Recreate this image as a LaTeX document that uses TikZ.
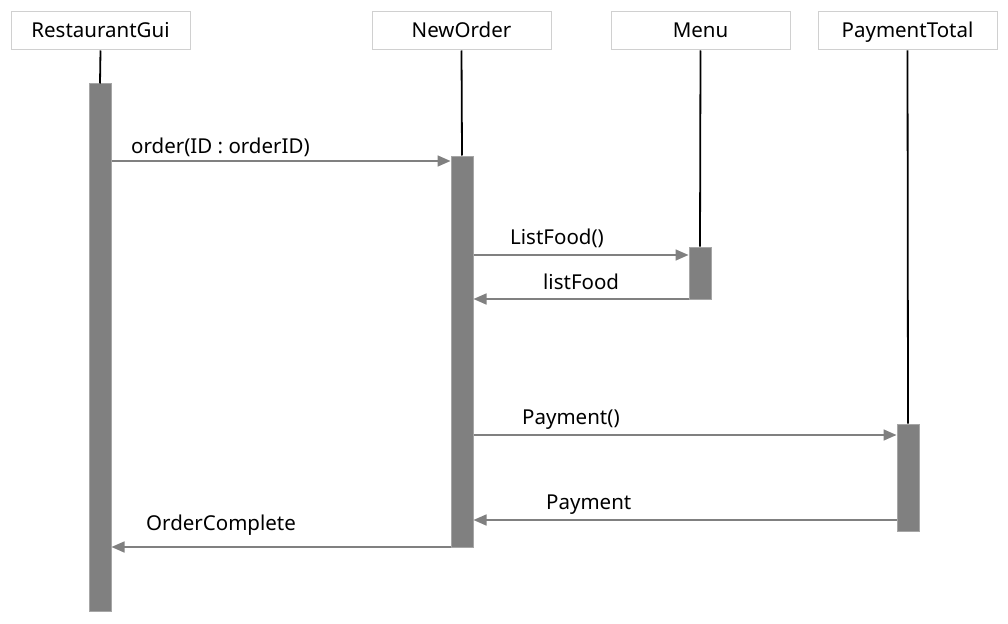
\documentclass[tikz,border=0pt]{standalone}
\usepackage{fontspec}
\setmainfont{Noto Sans}
\usetikzlibrary{arrows.meta}
\definecolor{boxline}{HTML}{D0D0D0}
\definecolor{actfill}{HTML}{808080}
\definecolor{actline}{HTML}{A6A6A6}
\definecolor{msg}{HTML}{808080}
\begin{document}
\begin{tikzpicture}[x=1pt,y=-1pt,
  head/.style={draw=boxline,line width=1pt,fill=white,minimum width=179pt,minimum height=38pt,inner sep=0pt,text depth=0pt,text height=14pt,font=\fontsize{20.5}{22}\selectfont},
  act/.style={draw=actline,line width=1pt,fill=actfill,minimum width=22pt,inner sep=0pt},
  life/.style={draw=black,line width=1.8pt},
  msgarrow/.style={draw=msg,line width=1.6pt,-{Triangle[length=13pt,width=11pt]}},
  lbl/.style={font=\fontsize{20.5}{22}\selectfont,inner sep=0pt,anchor=base west}]
\useasboundingbox (0,0) rectangle (1008,623);
\node[head] (hGui) at (100.5,31) {RestaurantGui};
\node[head] (hOrd) at (461.5,31) {NewOrder};
\node[head] (hMenu) at (700.5,31) {Menu};
\node[head] (hPay) at (907.5,31) {PaymentTotal};
% activation bars
\node[act,minimum height=527pt] (aGui) at (100,347.5) {};
\node[act,minimum height=391pt] (aOrd) at (462,351.5) {};
\node[act,minimum height=52pt] (aMenu) at (700,273) {};
\node[act,minimum height=107pt] (aPay) at (908,477.5) {};
% lifelines
\draw[life] (hGui.south) -- (aGui.north);
\draw[life] (hOrd.south) -- (aOrd.north);
\draw[life] (hMenu.south) -- (aMenu.north);
\draw[life] (hPay.south) -- (aPay.north);
% message endpoints
\coordinate (m1s) at (aGui.east |- 0,161);
\coordinate (m1e) at (aOrd.west |- 0,161);
\coordinate (m2s) at (aOrd.east |- 0,255);
\coordinate (m2e) at (aMenu.west |- 0,255);
\coordinate (m3s) at (aMenu.west |- 0,299);
\coordinate (m3e) at (aOrd.east |- 0,299);
\coordinate (m4s) at (aOrd.east |- 0,435);
\coordinate (m4e) at (aPay.west |- 0,435);
\coordinate (m5s) at (aPay.west |- 0,520);
\coordinate (m5e) at (aOrd.east |- 0,520);
\coordinate (m6s) at (aOrd.west |- 0,547);
\coordinate (m6e) at (aGui.east |- 0,547);
\draw[msgarrow] (m1s) -- (m1e);
\draw[msgarrow] (m2s) -- (m2e);
\draw[msgarrow] (m3s) -- (m3e);
\draw[msgarrow] (m4s) -- (m4e);
\draw[msgarrow] (m5s) -- (m5e);
\draw[msgarrow] (m6s) -- (m6e);
% labels
\node[lbl] (l1) at (131,153) {order(ID : orderID)};
\node[lbl] (l2) at (510,244) {ListFood()};
\node[lbl] (l3) at (543,289) {listFood};
\node[lbl] (l4) at (522,424) {Payment()};
\node[lbl] (l5) at (546,509) {Payment};
\node[lbl] (l6) at (146,530) {OrderComplete};
\end{tikzpicture}
\end{document}
